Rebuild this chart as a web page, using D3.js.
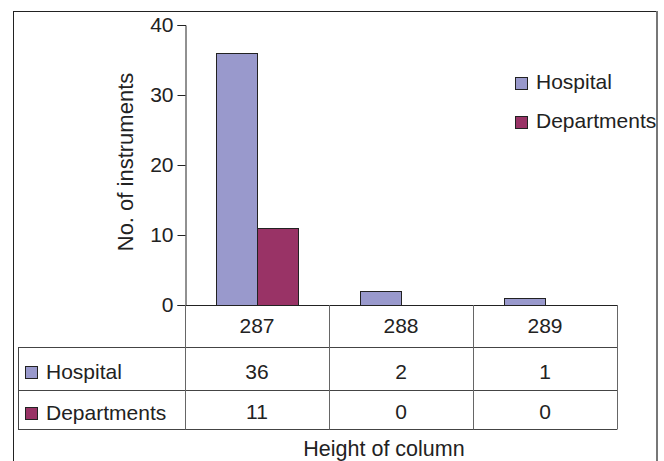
<!DOCTYPE html>
<html><head><meta charset="utf-8">
<script src="https://cdn.jsdelivr.net/npm/d3@7"></script>
<style>body{margin:0;background:#fff}svg{display:block;font-family:"Liberation Sans",Arial,sans-serif}</style>
</head><body><svg id="c" width="664" height="461"></svg>
<script>
const categories = ["287","288","289"];
const seriesNames = ["Hospital","Departments"];
const hospital = [36,2,1];
const departments = [11,0,0];
const yTicks = [0,10,20,30,40];
const colors = ["#9999CC","#993366"];
const values = [hospital, departments];
const FS = 21;
const FF = "Liberation Sans, Arial, sans-serif";

const svg = d3.select("#c");
// outer frame
svg.append("line").attr("x1",13).attr("x2",657).attr("y1",11.5).attr("y2",11.5).attr("stroke","#222");
svg.append("line").attr("x1",13.5).attr("x2",13.5).attr("y1",11).attr("y2",461).attr("stroke","#222");
svg.append("line").attr("x1",657).attr("x2",657).attr("y1",11).attr("y2",461).attr("stroke","#777").attr("stroke-width",2);

const x0 = d3.scaleBand().domain(categories).range([185,617]).padding(0);
const x1 = d3.scaleBand().domain(seriesNames).range([0,82]);
const off = (x0.bandwidth()-82)/2;
const y = d3.scaleLinear().domain([0,40]).range([305,25]);

// y axis
const yAxis = svg.append("g").attr("transform","translate(185.5,0)")
  .call(d3.axisLeft(y).tickValues(yTicks).tickSize(8).tickPadding(4));
yAxis.attr("font-size",FS).attr("font-family",FF);
yAxis.select(".domain").attr("stroke","#222");
yAxis.selectAll(".tick line").attr("stroke","#222");
yAxis.selectAll("text").attr("fill","#222");

svg.append("text").attr("transform","translate(133,162) rotate(-90)").attr("text-anchor","middle")
  .attr("font-size",22).attr("fill","#222").text("No. of instruments");

// bars
seriesNames.forEach((s,si)=>{
  svg.append("g").selectAll("rect").data(categories).join("rect")
    .attr("x",d=>x0(d)+off+x1(s)+0.5)
    .attr("width",x1.bandwidth())
    .attr("y",(d,i)=>y(values[si][i])+0.5)
    .attr("height",(d,i)=>y(0)-y(values[si][i]))
    .attr("fill",colors[si]).attr("stroke","#222").attr("stroke-width",1)
    .attr("display",(d,i)=>values[si][i]>0?null:"none");
});

// data table
const rowY = [305,347,390,429];
const baseY = [333,379,419.5];
const tableLeft = 18;
const g = svg.append("g").attr("stroke","#444").attr("stroke-width",1);
g.append("line").attr("x1",185).attr("x2",617).attr("y1",rowY[0]+0.5).attr("y2",rowY[0]+0.5).attr("stroke","#222");
for(let r=1;r<4;r++) g.append("line").attr("x1",tableLeft).attr("x2",617).attr("y1",rowY[r]+0.5).attr("y2",rowY[r]+0.5);
g.append("line").attr("x1",tableLeft+0.5).attr("x2",tableLeft+0.5).attr("y1",rowY[1]).attr("y2",rowY[3]+0.5);
[...categories.map(c=>x0(c)), 617].forEach(xv=>{
  g.append("line").attr("x1",xv+0.5).attr("x2",xv+0.5).attr("y1",rowY[0]).attr("y2",rowY[3]+0.5).attr("stroke","#666");
});
// header
svg.append("g").selectAll("text").data(categories).join("text")
  .attr("x",d=>x0(d)+x0.bandwidth()/2).attr("y",baseY[0])
  .attr("text-anchor","middle").attr("font-size",FS).attr("fill","#222").text(d=>d);
seriesNames.forEach((s,si)=>{
  const by = baseY[si+1];
  svg.append("rect").attr("x",25.5).attr("y",Math.round(by)-12.5).attr("width",12).attr("height",12)
    .attr("fill",colors[si]).attr("stroke","#222");
  svg.append("text").attr("x",46).attr("y",by).attr("font-size",FS).attr("fill","#222").text(s);
  svg.append("g").selectAll("text").data(categories).join("text")
    .attr("x",d=>x0(d)+x0.bandwidth()/2).attr("y",by-0.5)
    .attr("text-anchor","middle").attr("font-size",FS).attr("fill","#222")
    .text((d,i)=>values[si][i]);
});

// legend
seriesNames.forEach((s,si)=>{
  const by = 89 + si*39;
  svg.append("rect").attr("x",515.5).attr("y",by-11.5).attr("width",12).attr("height",12)
    .attr("fill",colors[si]).attr("stroke","#222");
  svg.append("text").attr("x",536).attr("y",by).attr("font-size",FS).attr("fill","#222").text(s);
});

svg.append("text").attr("x",384).attr("y",455.5).attr("text-anchor","middle")
  .attr("font-size",21.5).attr("fill","#222").text("Height of column");
</script></body></html>
